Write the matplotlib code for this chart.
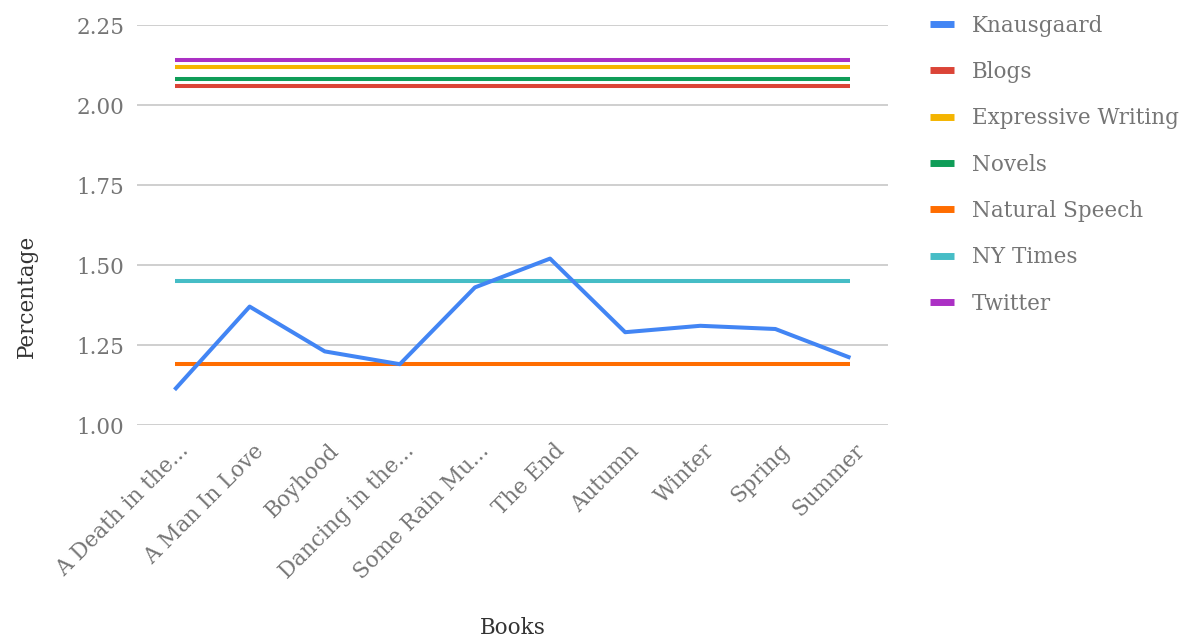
import matplotlib
matplotlib.use("Agg")
import matplotlib.pyplot as plt
from matplotlib.transforms import ScaledTranslation

books = ["A Death in the...", "A Man In Love", "Boyhood", "Dancing in the...",
         "Some Rain Mu...", "The End", "Autumn", "Winter", "Spring", "Summer"]
knausgaard = [1.11, 1.37, 1.23, 1.19, 1.43, 1.52, 1.29, 1.31, 1.30, 1.21]
blogs = 2.06
expressive_writing = 2.12
novels = 2.08
natural_speech = 1.19
ny_times = 1.45
twitter = 2.14

series = [
    ("Knausgaard", knausgaard, "#4285F4"),
    ("Blogs", [blogs] * len(books), "#DB4437"),
    ("Expressive Writing", [expressive_writing] * len(books), "#F4B400"),
    ("Novels", [novels] * len(books), "#0F9D58"),
    ("Natural Speech", [natural_speech] * len(books), "#FF6D00"),
    ("NY Times", [ny_times] * len(books), "#46BDC6"),
    ("Twitter", [twitter] * len(books), "#AB30C4"),
]
y_ticks = [1.00, 1.25, 1.50, 1.75, 2.00, 2.25]

plt.rcParams["font.family"] = ["DejaVu Serif"]
FS = 15.5

fig = plt.figure(figsize=(11.85, 6.38), dpi=100)
ax = fig.add_axes([137 / 1185, 213 / 638, 751 / 1185, 400 / 638])

x = list(range(len(books)))
handles = []
# draw constant series first so the Knausgaard line sits on top
for name, vals, color in reversed(series):
    (ln,) = ax.plot(x, vals, color=color, lw=2.9, solid_capstyle="butt",
                    zorder=3 if name == "Knausgaard" else 2)
    handles.append(ln)
handles = handles[::-1]

ax.set_xlim(-0.5, len(books) - 0.5)
ax.set_ylim(1.0, 2.25)
ax.set_yticks(y_ticks)
ax.set_yticklabels([f"{v:.2f}" for v in y_ticks])
ax.set_xticks(x)
ax.tick_params(axis="both", length=0, labelsize=FS, labelcolor="#757575")
ax.tick_params(axis="x", pad=15)
ax.tick_params(axis="y", pad=9)
ax.set_xticklabels(books, rotation=45, ha="right", va="center_baseline",
                   rotation_mode="anchor")
# nudge the slanted category labels to the right of their ticks
shift = ScaledTranslation(9 / 100, 0, fig.dpi_scale_trans)
for tick in ax.xaxis.get_major_ticks():
    tick.label1.set_transform(tick.label1.get_transform() + shift)
ax.grid(axis="y", color="#cccccc", lw=1.3)
ax.set_axisbelow(True)
for s in ax.spines.values():
    s.set_visible(False)

ax.set_xlabel("Books", fontsize=FS, color="#333333")
ax.xaxis.set_label_coords(0.5, -0.48)
ax.set_ylabel("Percentage", fontsize=FS, color="#333333")
ax.yaxis.set_label_coords(-0.132, 0.3225)

leg = fig.legend(handles, [s[0] for s in series], loc="upper left",
                 bbox_to_anchor=(921 / 1185, 1 - 6 / 638), frameon=False,
                 fontsize=FS, labelcolor="#757575", handlelength=1.15,
                 handletextpad=0.8, labelspacing=1.13, borderaxespad=0)
for h in leg.legend_handles:
    h.set_linewidth(5)

fig.savefig("out.png", dpi=100)
